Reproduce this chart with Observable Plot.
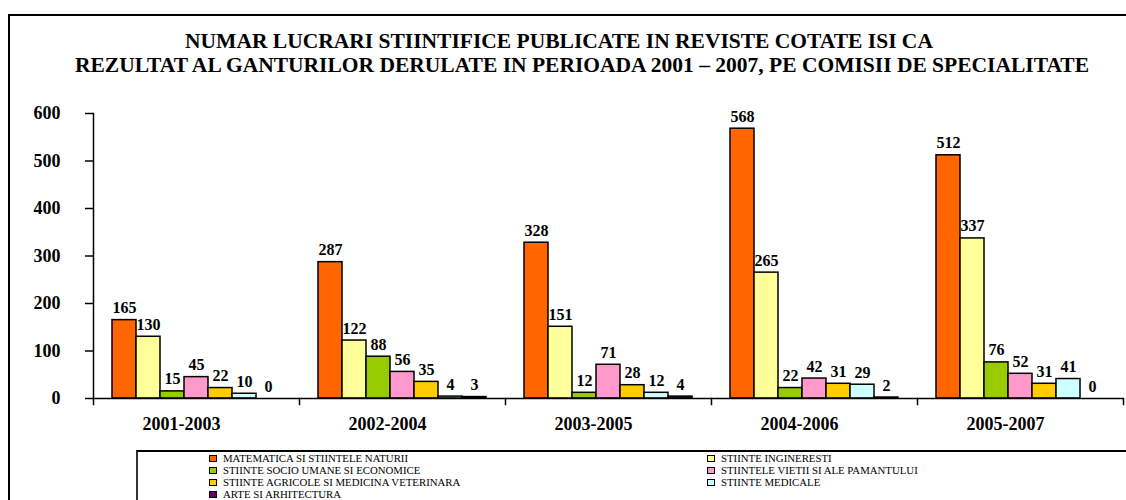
<!DOCTYPE html>
<html>
<head>
<meta charset="utf-8">
<script src="https://cdn.jsdelivr.net/npm/d3@7"></script>
<script src="https://cdn.jsdelivr.net/npm/@observablehq/plot@0.6"></script>
<style>
  html, body { margin: 0; padding: 0; background: #fff; }
  body { width: 1126px; height: 500px; overflow: hidden; position: relative; font-family: "Liberation Serif", "Times New Roman", serif; color: #000; }
  #outer { position: absolute; left: 8px; top: 14px; width: 1130px; height: 500px; border-left: 2px solid #000; border-top: 2px solid #000; box-sizing: border-box; }
  .title { position: absolute; transform: translateX(-50%); white-space: nowrap; font-family: "Liberation Serif", serif; font-weight: bold; font-size: 21.5px; line-height: 23.4px; }
  #chart { position: absolute; left: 0; top: 90px; }
  #legend { position: absolute; left: 136px; top: 450px; width: 1000px; height: 60px; border-left: 2px solid #333; border-top: 2px solid #000; box-sizing: border-box; padding-left: 71px; display: grid; grid-template-columns: 498px auto; grid-auto-rows: 12px; }
  .item { display: flex; align-items: center; font-family: "Liberation Serif", serif; font-size: 10.8px; white-space: nowrap; }
  .sw { width: 6px; height: 5px; border: 1.5px solid #000; margin-right: 6px; flex: none; }
</style>
</head>
<body>
<div id="outer"></div>
<div class="title" style="left:559px; top:30px;">NUMAR LUCRARI STIINTIFICE PUBLICATE IN REVISTE COTATE ISI CA</div>
<div class="title" style="left:582px; top:53.5px;">REZULTAT AL GANTURILOR DERULATE IN PERIOADA 2001 – 2007, PE COMISII DE SPECIALITATE</div>
<div id="chart"></div>
<div id="legend"></div>
<script>
const periods = ["2001-2003", "2002-2004", "2003-2005", "2004-2006", "2005-2007"];
const series = [
  "MATEMATICA SI STIINTELE NATURII",
  "STIINTE INGINERESTI",
  "STIINTE SOCIO UMANE SI ECONOMICE",
  "STIINTELE VIETII SI ALE PAMANTULUI",
  "STIINTE AGRICOLE SI MEDICINA VETERINARA",
  "STIINTE MEDICALE",
  "ARTE SI ARHITECTURA"
];
const colors = ["#FF6600", "#FFFF99", "#99CC00", "#FF99CC", "#FFCC00", "#CCFFFF", "#660066"];
const matematica = [165, 287, 328, 568, 512];
const inginerie  = [130, 122, 151, 265, 337];
const socioUmane = [15, 88, 12, 22, 76];
const vietii     = [45, 56, 71, 42, 52];
const agricole   = [22, 35, 28, 31, 31];
const medicale   = [10, 4, 12, 29, 41];
const arte       = [0, 3, 4, 2, 0];
const yTicks = [0, 100, 200, 300, 400, 500, 600];

const seriesValues = [matematica, inginerie, socioUmane, vietii, agricole, medicale, arte];
const data = [];
periods.forEach((p, i) => {
  series.forEach((s, j) => data.push({period: p, series: s, value: seriesValues[j][i]}));
});

const W = 1126, H = 353, mt = 23, mb = 45, ml = 92, mr = 2;
const innerH = H - mt - mb;

const chart = Plot.plot({
  width: W, height: H,
  marginLeft: ml, marginRight: mr, marginTop: mt, marginBottom: mb,
  style: {fontFamily: "Liberation Serif", color: "#000", background: "transparent", overflow: "visible"},
  fx: {domain: periods, padding: 0, label: null},
  x: {domain: series, paddingInner: 0, paddingOuter: 0.75, axis: null},
  y: {domain: [0, 600], label: null},
  color: {domain: series, range: colors},
  marks: [
    Plot.frame({anchor: "left", insetTop: innerH, insetBottom: -6, strokeWidth: 1.5}),
    Plot.frame({anchor: "right", insetTop: innerH, insetBottom: -6, strokeWidth: 1.5, facetAnchor: "right"}),
    Plot.barY(data, {fx: "period", x: "series", y: "value", fill: "series", stroke: "#000", strokeWidth: 1.5}),
    Plot.ruleY([0], {strokeWidth: 1.5}),
    Plot.frame({anchor: "left", facetAnchor: "left", strokeWidth: 1.5}),
    Plot.text(data, {fx: "period", x: "series", y: "value", text: d => String(d.value), lineAnchor: "bottom", dy: -7, fontSize: 16, fontWeight: "bold"}),
    Plot.axisY({ticks: yTicks, tickSize: 8, tickPadding: 25, fontSize: 18, fontWeight: "bold", tickFormat: d => String(d), strokeWidth: 1.5, label: null}),
    Plot.axisFx({anchor: "bottom", tickSize: 0, tickPadding: 19, dx: -15, fontSize: 18, fontWeight: "bold", label: null})
  ]
});
document.getElementById("chart").appendChild(chart);

const legend = document.getElementById("legend");
series.forEach((s, j) => {
  const item = document.createElement("div");
  item.className = "item";
  const sw = document.createElement("span");
  sw.className = "sw";
  sw.style.background = colors[j];
  item.appendChild(sw);
  item.appendChild(document.createTextNode(s));
  legend.appendChild(item);
});
</script>
</body>
</html>
